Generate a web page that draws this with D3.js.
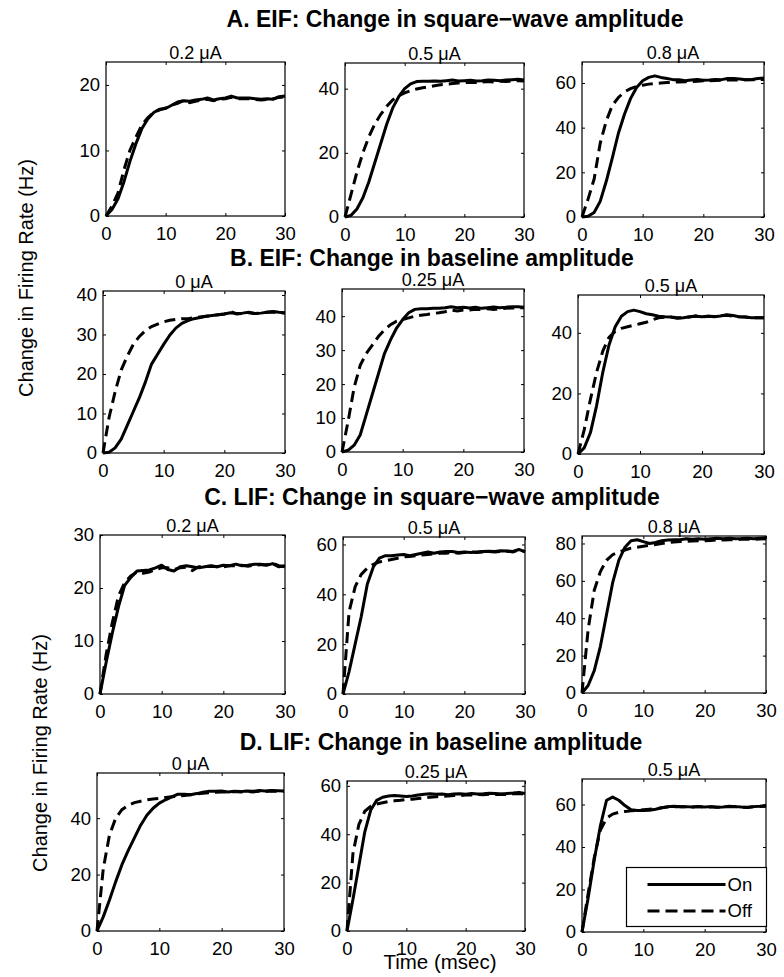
<!DOCTYPE html>
<html>
<head>
<meta charset="utf-8">
<script src="https://cdn.jsdelivr.net/npm/d3@7"></script>
<style>
  body { margin: 0; background: #fff; }
  text { font-family: "Liberation Sans", Arial, Helvetica, sans-serif; fill: #000; }
</style>
</head>
<body>
<div class="canvas"></div>
<script>
// time axis (msec)
const time = [0,1,2,3,4,5,6,7,8,9,10,11,12,13,14,15,16,17,18,19,20,21,22,23,24,25,26,27,28,29,30];
const xTicks = [0, 10, 20, 30];

// A. EIF, square-wave amplitude
const a1On  = [0,1,2.6,5.2,8.3,11,13.3,14.8,15.8,16.3,16.4,16.9,17.4,17.6,17.5,17.7,17.8,18.0,17.7,17.9,18.0,18.3,18.0,18.0,18.0,17.9,17.8,17.9,17.8,18.2,18.3];
const a1Off = [0,1.5,3.5,7,10,12,13.9,15,15.8,16.2,16.5,16.9,17.2,17.6,17.3,17.5,17.7,17.8,17.6,17.8,17.9,18.1,17.9,17.9,17.9,17.8,17.7,17.8,17.9,18.1,18.2];
const a2On  = [0,0.5,2.5,6,11,17,23,29,34,37.5,40,41.5,42.2,42.3,42.3,42.4,42.3,42.5,42.7,42.4,42.5,42.6,42.4,42.5,42.7,42.6,42.5,42.7,42.8,42.9,42.7];
const a2Off = [0,7,14,20,25,29,32,34.5,36.5,37.8,38.7,39.4,39.9,40.3,40.6,40.9,41.2,41.4,41.6,41.8,41.9,42.0,41.9,42.1,42.2,42.1,42.3,42.2,42.4,42.5,42.4];
const a3On  = [0,0.3,2,7,16,26.5,37.5,46,53,58,61,62.5,63.2,62.5,62,61.5,61.5,61,61.3,61.6,61.2,61.3,61.6,61.5,62,62,61.8,61.5,61.6,62,62.2];
const a3Off = [0,8,17,33,43,50,53.5,56,57.5,58.5,59,59.5,59.8,60,60.2,60.3,60.5,60.6,60.6,60.8,61,61,61.1,61.2,61.3,61.3,61.4,61.5,61.4,61.5,61.6];

// B. EIF, baseline amplitude
const b1On  = [0,0.2,1.3,3.5,7,10.5,14,18,22.5,25,27.5,29.8,31.6,32.8,33.5,34,34.3,34.6,34.8,35,35.2,35.5,35.3,35.4,35.6,35.3,35.4,35.6,35.8,35.6,35.5];
const b1Off = [0,9,15.5,21,24.5,27.5,29.5,31,32,32.6,33.2,33.6,33.8,34,34,34.2,34.4,34.6,34.8,35,35.2,35.8,35.2,35.3,35.5,35.3,35.4,35.6,35.7,35.5,35.4];
const b2On  = [0,0.5,2,5,11,17,23,29,33,36.5,39,41,42,42.2,42.2,42.3,42.3,42.5,42.8,42.5,42.6,42.4,42.6,42.3,42.5,42.7,42.5,42.6,42.8,42.8,42.6];
const b2Off = [0,9,19,25.5,29,31.5,34,36,37.5,38.5,39,39.5,40,40.3,40.5,40.8,41,41.3,41.8,41.5,41.8,41.8,42,42,42.2,42,42.2,42.3,42.4,42.5,42.5];
const b3On  = [0,2,7,16,27,36,42,45.5,47,47.5,47,46.3,46,45.5,45.3,45.2,44.8,45,45.3,45.5,45.3,45.5,45.3,45.6,46,45.7,45.3,45.2,45,45,45];
const b3Off = [0,8,18,27,34,38.5,40.5,41.5,42,42.5,43,43.5,44.3,45,45.2,45.2,45,45,45.2,45.6,45.2,45.5,45.4,45.6,45.8,45.5,45.3,45.2,45,45,45];

// C. LIF, square-wave amplitude
const c1On  = [0,6,11.5,16.5,20.5,22,23.2,23.3,23.4,23.8,24.3,23.5,23.2,24,24.2,24,23.8,24,24.2,24,24.3,24.2,24.5,24.2,24.3,24.5,24.5,24.3,24.6,24,24.2];
const c1Off = [0,7.5,13.5,18.5,21,22.3,23,22.8,23,23.5,23.8,23.8,23.5,23.8,23.9,23.3,24,24,24.1,24,24,24.2,24.2,24.3,24.1,24.3,24.4,24.4,24.7,24.2,24];
const c2On  = [0,9,20,31,44,51,54.5,55.5,55.5,55.8,56,55.5,56,56.5,57,56.5,57,57.2,57.2,56.8,57,56.8,57,57.2,57.3,57.2,57.5,57.4,57.2,58,57];
const c2Off = [0,33,43,48,50.5,52,53,53.5,54,54.5,55,55.2,55.5,55.8,56,56.2,56.5,56.5,56.8,56.5,56.8,57,56.8,57,57.2,57,57.2,57.3,57,57.8,57.2];
const c3On  = [0,4,12,25,42,59,71,78,81.5,82,81,80,80.5,81.5,81.8,82,82,82.5,82.3,82.5,82.2,82.5,82.8,82.5,82.8,82.5,82.6,82.8,82.5,82.8,83];
const c3Off = [0,34,55,65,71,74,75.5,76.5,77.5,78,78.5,79,79.5,80,80.5,80.8,81,81.2,81.3,81.5,81.5,81.6,82,81.8,82,82,82.2,82.3,82.2,82.4,82.5];

// D. LIF, baseline amplitude
const d1On  = [0,5,11,17.5,23.5,28.5,33,37.5,41,43.5,45.3,46.5,47.5,48.5,48.5,48.3,48.7,49.2,49.5,49.5,49.6,49.3,49.5,49.4,49.6,49.5,49.8,49.6,49.8,49.7,49.6];
const d1Off = [0,22,34,40,43,44.5,45.5,46,46.5,46.8,47,47.3,47.6,47.8,48,48.3,48.6,48.8,49,49.2,49.3,49.2,49.4,49.3,49.5,49.3,49.5,49.4,49.6,49.5,49.5];
const d2On  = [0,13,27,41,50,54,55.3,55.8,56,55.8,55.6,55.8,56.2,56.5,56.7,56.5,56.6,56.3,56.6,56.7,56.5,56.8,56.6,56.7,56.9,56.8,56.6,56.8,57,57.3,56.8];
const d2Off = [0,32,44,49.5,51.5,52.5,53,53.5,53.8,54,54.3,54.5,54.8,55,55.3,55.5,55.7,55.8,56,56,56.2,56.2,56.4,56.3,56.5,56.4,56.5,56.4,56.7,56.8,56.5];
const d3On  = [0,16,34,50,62,63.5,62,59.5,57.5,57.2,57.2,57.3,57.8,58.5,59,59.2,59,59,58.8,59,58.8,59,58.7,58.8,59.2,59,58.8,58.7,59,59.2,59.5];
const d3Off = [0,18,35,48,53.5,55.5,56.3,56.7,57,57.2,57.5,57.8,58,58.5,58.8,59,59,58.9,58.8,59,58.8,58.9,58.7,58.8,59,58.9,58.7,58.6,58.9,59,59.2];

// text
const rowTitles = ["A. EIF: Change in square\u2212wave amplitude", "B. EIF: Change in baseline amplitude",
                   "C. LIF: Change in square\u2212wave amplitude", "D. LIF: Change in baseline amplitude"];
const squareTitles = ["0.2 \u03bcA", "0.5 \u03bcA", "0.8 \u03bcA"];
const baselineTitles = ["0 \u03bcA", "0.25 \u03bcA", "0.5 \u03bcA"];
const legendLabels = ["On", "Off"];

// y tick labels per panel
const ticksA = [[0,10,20], [0,20,40], [0,20,40,60]];
const ticksB = [[0,10,20,30,40], [0,10,20,30,40], [0,20,40]];
const ticksC = [[0,10,20,30], [0,20,40,60], [0,20,40,60,80]];
const ticksD = [[0,20,40], [0,20,40,60], [0,20,40,60]];

// panel layout: box = [left, right, top, bottom], yMax = axis limit
const panels = [
  {on: a1On, off: a1Off, title: squareTitles[0], ticks: ticksA[0], yMax: 23.5, box: [106, 285, 62, 216]},
  {on: a2On, off: a2Off, title: squareTitles[1], ticks: ticksA[1], yMax: 48,   box: [345, 524, 63, 217]},
  {on: a3On, off: a3Off, title: squareTitles[2], ticks: ticksA[2], yMax: 69.4, box: [582, 764, 62, 217]},
  {on: b1On, off: b1Off, title: baselineTitles[0], ticks: ticksB[0], yMax: 41,   box: [103, 285, 291, 453]},
  {on: b2On, off: b2Off, title: baselineTitles[1], ticks: ticksB[1], yMax: 48,   box: [342, 524, 289, 452]},
  {on: b3On, off: b3Off, title: baselineTitles[2], ticks: ticksB[2], yMax: 52.5, box: [578, 764, 295, 454]},
  {on: c1On, off: c1Off, title: squareTitles[0], ticks: ticksC[0], yMax: 30,   box: [100, 285, 535, 694]},
  {on: c2On, off: c2Off, title: squareTitles[1], ticks: ticksC[1], yMax: 63,   box: [343, 525, 537, 694]},
  {on: c3On, off: c3Off, title: squareTitles[2], ticks: ticksC[2], yMax: 84,   box: [582, 766, 536, 693]},
  {on: d1On, off: d1Off, title: baselineTitles[0], ticks: ticksD[0], yMax: 56,   box: [97, 284, 773, 931]},
  {on: d2On, off: d2Off, title: baselineTitles[1], ticks: ticksD[1], yMax: 62,   box: [347, 525, 781, 931]},
  {on: d3On, off: d3Off, title: baselineTitles[2], ticks: ticksD[2], yMax: 72,   box: [582, 766, 779, 932]}
];

const rowTitlePos = [[455, 27], [432, 266], [432, 505], [441, 750]];

const svg = d3.select(".canvas").append("svg")
  .attr("width", 784)
  .attr("height", 977);

svg.append("rect").attr("width", 784).attr("height", 977).attr("fill", "#fff");

const tickFont = "18.5px";
const dash = "11,6";

panels.forEach(p => {
  const [x0, x1, y0, y1] = p.box;
  const x = d3.scaleLinear().domain([0, 30]).range([x0, x1]);
  const y = d3.scaleLinear().domain([0, p.yMax]).range([y1, y0]);
  const g = svg.append("g");

  const line = d3.line()
    .x((d, i) => x(time[i]))
    .y(d => y(d));

  // On first, Off drawn over it
  g.append("path").datum(p.on)
    .attr("d", line)
    .attr("fill", "none")
    .attr("stroke", "#000")
    .attr("stroke-width", 3)
    .attr("stroke-linejoin", "round");
  g.append("path").datum(p.off)
    .attr("d", line)
    .attr("fill", "none")
    .attr("stroke", "#000")
    .attr("stroke-width", 3)
    .attr("stroke-dasharray", dash);

  // axes, ticks pointing inward
  g.append("g")
    .attr("transform", `translate(0, ${y1})`)
    .call(d3.axisBottom(x).tickValues(xTicks).tickSize(-3).tickPadding(11));
  g.append("g")
    .attr("transform", `translate(${x0}, 0)`)
    .call(d3.axisLeft(y).tickValues(p.ticks).tickSize(-3).tickPadding(6));
  g.append("g")
    .attr("transform", `translate(0, ${y0})`)
    .call(d3.axisTop(x).tickValues(xTicks).tickSize(-3).tickFormat(""));
  g.append("g")
    .attr("transform", `translate(${x1}, 0)`)
    .call(d3.axisRight(y).tickValues(p.ticks).tickSize(-3).tickFormat(""));

  g.selectAll(".domain").remove();
  g.selectAll(".tick line").attr("stroke", "#000").attr("stroke-width", 1);
  g.selectAll(".tick text").style("font-size", tickFont).attr("fill", "#000");

  // box
  g.append("rect")
    .attr("x", x0).attr("y", y0)
    .attr("width", x1 - x0).attr("height", y1 - y0)
    .attr("fill", "none")
    .attr("stroke", "#000")
    .attr("stroke-width", 1.2);

  // subplot title
  g.append("text")
    .attr("x", (x0 + x1) / 2)
    .attr("y", y0 - 3)
    .attr("text-anchor", "middle")
    .style("font-size", "18px")
    .text(p.title);
});

// row titles
rowTitles.forEach((t, i) => {
  svg.append("text")
    .attr("x", rowTitlePos[i][0])
    .attr("y", rowTitlePos[i][1])
    .attr("text-anchor", "middle")
    .style("font-size", "23px")
    .style("font-weight", "bold")
    .text(t);
});

// y labels (one for each half)
[[33, 278], [47, 753]].forEach(([lx, ly]) => {
  svg.append("text")
    .attr("transform", `translate(${lx}, ${ly}) rotate(-90)`)
    .attr("text-anchor", "middle")
    .style("font-size", "20px")
    .text("Change in Firing Rate (Hz)");
});

// x label
svg.append("text")
  .attr("x", 440)
  .attr("y", 969)
  .attr("text-anchor", "middle")
  .style("font-size", "20.5px")
  .text("Time (msec)");

// legend in last panel
const legend = svg.append("g").attr("transform", "translate(626.5, 867.5)");
legend.append("rect")
  .attr("width", 140).attr("height", 59)
  .attr("fill", "#fff")
  .attr("stroke", "#000")
  .attr("stroke-width", 1.2);
legendLabels.forEach((lab, i) => {
  const ly = 17 + i * 26.5;
  legend.append("line")
    .attr("x1", 21).attr("x2", 99)
    .attr("y1", ly).attr("y2", ly)
    .attr("stroke", "#000")
    .attr("stroke-width", 3)
    .attr("stroke-dasharray", i === 1 ? "12,6" : null);
  legend.append("text")
    .attr("x", 101).attr("y", ly)
    .attr("dy", "0.35em")
    .style("font-size", tickFont)
    .text(lab);
});
</script>
</body>
</html>
